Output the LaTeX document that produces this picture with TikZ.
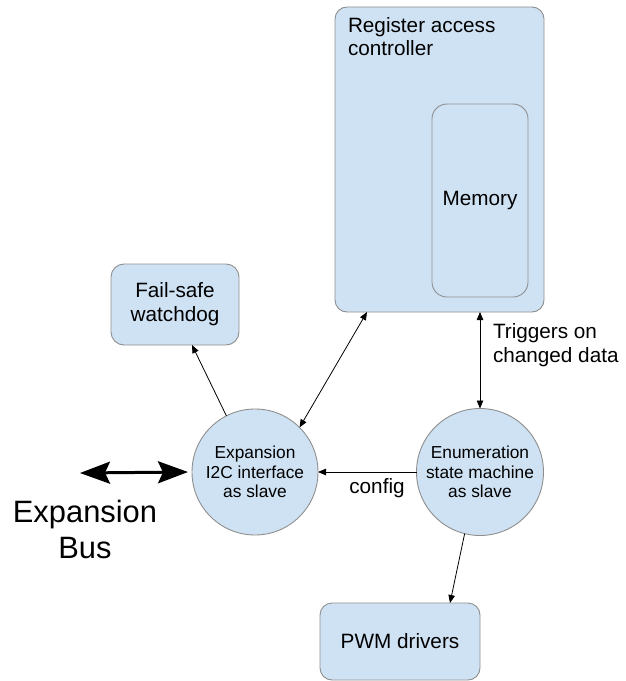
\documentclass[tikz,border=0pt]{standalone}
\usepackage{fontspec}
\setmainfont{Liberation Sans}
\usetikzlibrary{arrows.meta}
\definecolor{boxfill}{HTML}{CFE2F3}
\definecolor{boxline}{HTML}{8E8E8E}
\begin{document}
\begin{tikzpicture}[x=1bp,y=-1bp,
  blk/.style={draw=boxline,fill=boxfill,line width=0.9bp,rounded corners=12bp,inner sep=0pt,outer sep=0pt,align=center,font=\fontsize{20.8}{24}\selectfont},
  circ/.style={draw=boxline,fill=boxfill,line width=0.9bp,circle,inner sep=0pt,outer sep=0pt,align=center,font=\fontsize{17.4}{19.5}\selectfont},
  lbl/.style={inner sep=0pt,outer sep=0pt,font=\fontsize{20.8}{24}\selectfont},
  conn/.style={line width=0.8bp,-{Triangle[length=8bp,width=6.5bp]}},
  bconn/.style={line width=0.8bp,{Triangle[length=8bp,width=6.5bp]}-{Triangle[length=8bp,width=6.5bp]}}
]
\useasboundingbox (0,0) rectangle (626,681);
\node[blk,minimum width=209bp,minimum height=305bp] (rac) at (439.5,159.5) {};
\node[lbl,anchor=base west,align=left] (ractxt) at (348,56) {Register access\\controller};
\node[blk,rounded corners=15bp,minimum width=96bp,minimum height=193bp] (mem) at (480,200.5) {Memory};
\node[blk,rounded corners=13bp,minimum width=128bp,minimum height=81bp] (wd) at (175,304.5) {Fail-safe\\watchdog};
\node[blk,minimum width=160bp,minimum height=77bp] (pwm) at (400,641.5) {PWM drivers};
\node[circ,minimum size=126bp] (exp) at (255,472) {Expansion\\I2C interface\\as slave};
\node[circ,minimum size=127bp] (enum) at (480,472) {Enumeration\\state machine\\as slave};
\coordinate (busend) at (80,473);
\node[inner sep=0pt,outer sep=0pt,anchor=base,align=center,font=\fontsize{31}{36}\selectfont] (bus) at (85,558) {Expansion\\Bus};
\node[lbl,anchor=base west,align=left] (trig) at (493,362) {Triggers on\\changed data};
\node[lbl,anchor=base] (cfg) at (377,493) {config};
% connectors
\draw[line width=3bp,{Stealth[length=30bp,width=22bp,inset=5bp]}-{Stealth[length=30bp,width=22bp,inset=5bp]}] (busend) -- ([xshift=-4bp]exp.west);
\draw[conn] (exp.117) -- ([xshift=17bp]wd.south);
\draw[bconn] (exp.45) -- ([xshift=-72.5bp]rac.south);
\draw[bconn] (enum.north) -- (enum.north |- rac.south);
\draw[conn] (enum.west) -- (exp.east);
\draw[conn] (enum.-104) -- ([xshift=50bp]pwm.north);
\end{tikzpicture}
\end{document}
